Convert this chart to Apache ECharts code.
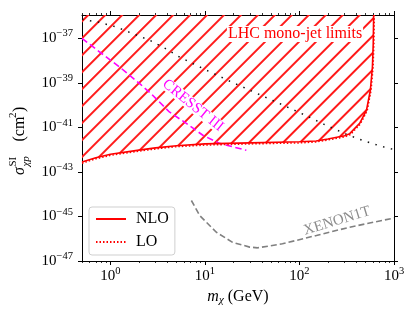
<!DOCTYPE html>
<html><head><meta charset="utf-8">
<script src="https://cdn.jsdelivr.net/npm/echarts@6/dist/echarts.min.js"></script>
<style>html,body{margin:0;padding:0;background:#fff}#c{width:416px;height:316px}</style>
</head><body><div id="c"></div>
<script>
// ---- data ----
const xRange = [0.5, 1000];          // GeV
const yRange = [1e-47, 1.1e-36];     // cm^2
const xMajorTicks = [1, 10, 100, 1000];
const xMinorTicks = [0.5,0.6,0.7,0.8,0.9, 2,3,4,5,6,7,8,9, 20,30,40,50,60,70,80,90, 200,300,400,500,600,700,800,900];
const yMajorTicks = [1e-47, 1e-45, 1e-43, 1e-41, 1e-39, 1e-37];

const nloMass  = [0.5, 0.7, 1, 2, 3, 5, 10, 30, 100, 150, 200, 300, 340, 433, 511, 562, 591, 603, 609];
const nloSigma = [2.75e-43, 4.3e-43, 6.2e-43, 9.5e-43, 1.2e-42, 1.5e-42, 1.8e-42, 2.0e-42, 2.25e-42, 2.45e-42, 3.0e-42, 4.2e-42, 5.2e-42, 1.5e-41, 5.7e-41, 4.6e-40, 5.1e-39, 5.8e-38, 1.1e-36];

const loMass  = [0.5, 0.7, 1, 2, 3, 5, 10, 30, 100, 150, 200, 300, 345, 440, 520, 572, 601, 613, 619];
const loSigma = [2.45e-43, 3.85e-43, 5.5e-43, 8.5e-43, 1.07e-42, 1.35e-42, 1.6e-42, 1.8e-42, 2.0e-42, 2.2e-42, 2.7e-42, 3.7e-42, 4.7e-42, 1.4e-41, 5.5e-41, 4.6e-40, 5.1e-39, 5.8e-38, 1.1e-36];

const dotMass  = [0.5, 0.77, 1.15, 1.72, 2.6, 3.75, 5.43, 9.7, 17.4, 31, 56, 100, 180, 324, 490, 736, 1000];
const dotSigma = [7.1e-37, 5.1e-37, 3.2e-37, 1.6e-37, 8.1e-38, 3.6e-38, 1.4e-38, 4.2e-39, 1.3e-39, 4.3e-40, 1.4e-40, 4.6e-41, 1.4e-41, 4.6e-42, 2.4e-42, 1.4e-42, 1.0e-42];

const cresstMass  = [0.5, 0.77, 1.25, 2.04, 2.7, 4.2, 6.35, 9.5, 14.3, 27.4];
const cresstSigma = [9.8e-38, 2.4e-38, 5.1e-39, 9.1e-40, 3.2e-40, 4.9e-41, 1.5e-41, 4.4e-42, 1.9e-42, 9.3e-43];

const xenonMass  = [7.18, 8.8, 13.2, 19.6, 29.7, 36, 66, 151, 340, 1000];
const xenonSigma = [5.2e-45, 1.1e-45, 1.95e-46, 6.9e-47, 4.2e-47, 3.9e-47, 5.9e-47, 1.4e-46, 3.3e-46, 8.5e-46];

const legendNames = ['NLO', 'LO'];
const labelLHC = 'LHC mono-jet limits';
const labelCRESST = 'CRESST III';
const labelXENON = 'XENON1T';

// ---- chart ----
// y axis is a linear value axis over log10(sigma) (decades), x is a log axis
const lg = Math.log10;
const zip = (a, b) => a.map((v, i) => [v, lg(b[i])]);
const FONT = 'Liberation Serif';
const supText = e => '{b|10}{s|' + (e < 0 ? '\u2212' : '') + Math.abs(e) + '}';
const tickRich = {
  b: { fontSize: 15, fontFamily: FONT, color: '#000', verticalAlign: 'middle' },
  s: { fontSize: 10.5, fontFamily: FONT, color: '#000', verticalAlign: 'middle', padding: [0, 0, 9, 0] }
};
const baseX = (extra) => Object.assign({
  type: 'log', logBase: 10, min: xRange[0], max: xRange[1],
  splitLine: { show: false }, axisLine: { show: false },
  axisTick: { show: false }, axisLabel: { show: false }
}, extra);
const yDecades = yMajorTicks.map(v => Math.round(lg(v)));
const baseY = (extra) => Object.assign({
  type: 'value', min: Math.round(lg(yRange[0])), max: lg(yRange[1]),
  splitLine: { show: false }, axisLine: { show: false },
  axisTick: { show: false }, axisLabel: { show: false }
}, extra);

const chart = echarts.init(document.getElementById('c'), null, { renderer: 'canvas' });
chart.setOption({
  animation: false,
  textStyle: { fontFamily: FONT },
  grid: { left: 82, right: 22, top: 15, bottom: 55, containLabel: false },
  xAxis: [
    baseX({
      position: 'bottom',
      axisLine: { show: true, onZero: false, lineStyle: { color: '#000', width: 1 } },
      axisTick: { show: true, customValues: xMajorTicks, length: 4, lineStyle: { color: '#000', width: 1 } },
      axisLabel: { show: true, customValues: xMajorTicks, formatter: v => supText(Math.round(lg(v))), rich: tickRich, margin: 5 },
      name: '{i|m}{sub|\u03c7}{n| (GeV)}',
      nameLocation: 'middle', nameGap: 26,
      nameTextStyle: {
        rich: {
          i: { fontSize: 16, fontStyle: 'italic', fontFamily: FONT, color: '#000', verticalAlign: 'middle' },
          sub: { fontSize: 11, fontStyle: 'italic', fontFamily: FONT, color: '#000', verticalAlign: 'middle', padding: [7, 0, 0, 0] },
          n: { fontSize: 16, fontFamily: FONT, color: '#000', verticalAlign: 'middle' }
        }
      }
    }),
    baseX({ position: 'bottom', axisTick: { show: true, customValues: xMinorTicks, length: 2, lineStyle: { color: '#000', width: 0.8 } } }),
    baseX({
      position: 'top',
      axisLine: { show: true, onZero: false, lineStyle: { color: '#000', width: 1 } },
      axisTick: { show: true, customValues: xMajorTicks, length: 4, lineStyle: { color: '#000', width: 1 } }
    }),
    baseX({ position: 'top', axisTick: { show: true, customValues: xMinorTicks, length: 2, lineStyle: { color: '#000', width: 0.8 } } })
  ],
  yAxis: [
    baseY({
      position: 'left',
      axisLine: { show: true, onZero: false, lineStyle: { color: '#000', width: 1 } },
      axisTick: { show: true, customValues: yDecades, length: 4, lineStyle: { color: '#000', width: 1 } },
      axisLabel: { show: true, customValues: yDecades, formatter: v => supText(Math.round(v)), rich: tickRich, margin: 9 }
    }),
    baseY({
      position: 'right',
      axisLine: { show: true, onZero: false, lineStyle: { color: '#000', width: 1 } },
      axisTick: { show: true, customValues: yDecades, length: 4, lineStyle: { color: '#000', width: 1 } }
    })
  ],
  legend: {
    data: legendNames,
    orient: 'vertical', left: 89, top: 207,
    itemWidth: 30, itemHeight: 14, itemGap: 7,
    padding: [4, 6, 5, 6],
    borderColor: '#cfcfcf', borderWidth: 1, borderRadius: 3,
    backgroundColor: 'rgba(255,255,255,0.8)',
    itemStyle: { color: 'rgba(0,0,0,0)', borderWidth: 0, opacity: 0 },
    textStyle: { fontFamily: FONT, fontSize: 16, color: '#000', padding: [0, 0, 0, 5] },
    selectedMode: false
  },
  series: [
    {
      name: 'hatch', type: 'line', data: zip(nloMass, nloSigma),
      symbol: 'none', silent: true, z: 1,
      lineStyle: { width: 0, opacity: 0 },
      itemStyle: {
        color: '#ff0000',
        decal: {
          symbol: 'rect', symbolSize: 1, color: '#ff1a1a',
          dashArrayX: [1, 0], dashArrayY: [1.4, 9.6],
          rotation: -Math.PI / 4
        }
      },
      areaStyle: { origin: 'end', color: 'rgba(255,255,255,0)', opacity: 1 }
    },
    {
      name: 'NLO', type: 'line', data: zip(nloMass, nloSigma), symbol: 'none', z: 5,
      itemStyle: { color: '#ff0000' },
      lineStyle: { color: '#ff0000', width: 1.6 }
    },
    {
      name: 'LO', type: 'line', data: zip(loMass, loSigma), symbol: 'none', z: 4,
      itemStyle: { color: '#ff0000' },
      lineStyle: { color: '#ff0000', width: 1.5, type: [1.5, 2] }
    },
    {
      name: 'direct', type: 'line', data: zip(dotMass, dotSigma), symbol: 'none', z: 3,
      lineStyle: { color: '#111', width: 1.5, type: [1.5, 6.5] }
    },
    {
      name: 'CRESST', type: 'line', data: zip(cresstMass, cresstSigma), symbol: 'none', z: 3,
      lineStyle: { color: '#ff00ff', width: 1.6, type: [6.5, 3.5] }
    },
    {
      name: 'XENON', type: 'line', data: zip(xenonMass, xenonSigma), symbol: 'none', z: 3,
      lineStyle: { color: '#808080', width: 1.6, type: [6, 3] }
    }
  ],
  graphic: [
    { type: 'text', x: 295, y: 34, z: 10,
      style: { text: labelLHC, fill: '#ff0000', font: '16px "Liberation Serif"', align: 'center', verticalAlign: 'middle',
               backgroundColor: '#ffffff', padding: [0, 1] } },
    { type: 'text', x: 193, y: 105.5, rotation: -39 * Math.PI / 180, z: 2,
      style: { text: labelCRESST, fill: '#ff00ff', font: '15px "Liberation Serif"', align: 'center', verticalAlign: 'middle',
               backgroundColor: '#ffffff', padding: [-1, 1] } },
    { type: 'text', x: 337, y: 221, rotation: 17 * Math.PI / 180, z: 10,
      style: { text: labelXENON, fill: '#8c8c8c', font: '15px "Liberation Serif"', align: 'center', verticalAlign: 'middle' } },
    { type: 'group', x: 19.5, y: 140, rotation: Math.PI / 2, z: 10,
      children: [
        { type: 'text', x: -35, y: 0, style: { text: '\u03c3', fill: '#000', font: 'italic 16px "Liberation Serif"', align: 'left', verticalAlign: 'middle' } },
        { type: 'text', x: -26.5, y: -6.5, style: { text: 'SI', fill: '#000', font: '11px "Liberation Serif"', align: 'left', verticalAlign: 'middle' } },
        { type: 'text', x: -26.5, y: 6.5, style: { text: '\u03c7p', fill: '#000', font: 'italic 11px "Liberation Serif"', align: 'left', verticalAlign: 'middle' } },
        { type: 'text', x: -1.5, y: 0, style: { text: '(cm', fill: '#000', font: '16px "Liberation Serif"', align: 'left', verticalAlign: 'middle' } },
        { type: 'text', x: 22, y: -6.5, style: { text: '2', fill: '#000', font: '11px "Liberation Serif"', align: 'left', verticalAlign: 'middle' } },
        { type: 'text', x: 28, y: 0, style: { text: ')', fill: '#000', font: '16px "Liberation Serif"', align: 'left', verticalAlign: 'middle' } }
      ]
    }
  ]
});
</script>
</body></html>
